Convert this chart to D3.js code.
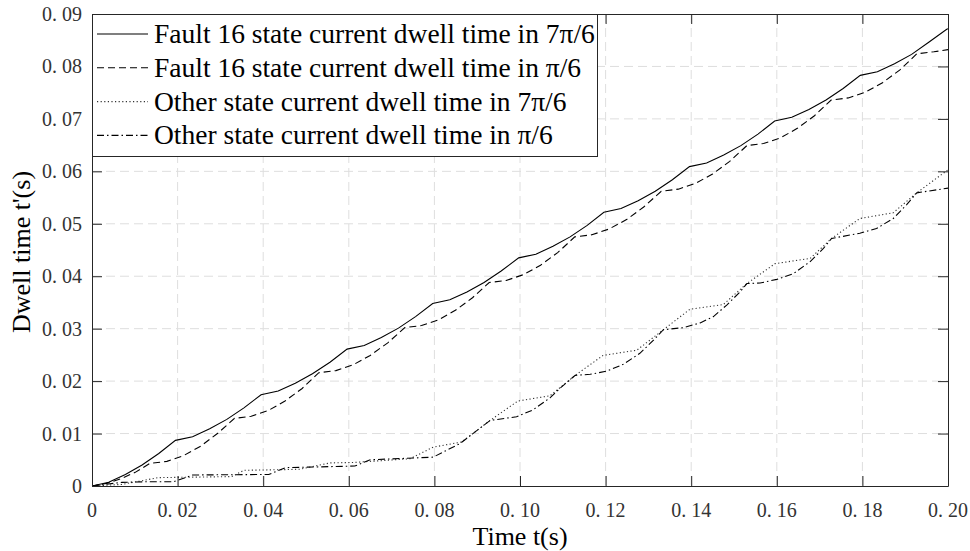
<!DOCTYPE html>
<html>
<head>
<meta charset="utf-8">
<script src="https://cdn.jsdelivr.net/npm/d3@7"></script>
<style>
  html, body { margin: 0; padding: 0; background: #fff; }
  svg { display: block; }
</style>
</head>
<body>
<script>

WIDTH = 970;
HEIGHT = 551;
PLOT = ({left: 92, right: 948, top: 14, bottom: 486});
AXIS_COLOR = "#262626";
GRID_COLOR = "#dedede";
TICK_FONT = "'Liberation Serif', 'Times New Roman', serif";

// ticks
var xTicks = [0, 0.02, 0.04, 0.06, 0.08, 0.10, 0.12, 0.14, 0.16, 0.18, 0.20];
var yTicks = [0, 0.01, 0.02, 0.03, 0.04, 0.05, 0.06, 0.07, 0.08, 0.09];

var legendLabels = [
    "Fault 16 state current dwell time in 7\u03c0/6",
    "Fault 16 state current dwell time in \u03c0/6",
    "Other state current dwell time in 7\u03c0/6",
    "Other state current dwell time in \u03c0/6"
];

// [t (s), dwell time (s)]
var fault7pi6 = [
    [0, 0], [0.0039, 0.0007], [0.0078, 0.0022], [0.0117, 0.0040], [0.0156, 0.0062], [0.0195, 0.0087],
    [0.0235, 0.0094], [0.0275, 0.0109], [0.0315, 0.0127], [0.0355, 0.0149], [0.0395, 0.0174],
    [0.0435, 0.0181], [0.0475, 0.0196], [0.0515, 0.0214], [0.0556, 0.0236], [0.0596, 0.0261],
    [0.0636, 0.0268], [0.0676, 0.0283], [0.0716, 0.0301], [0.0756, 0.0323], [0.0796, 0.0348],
    [0.0836, 0.0355], [0.0876, 0.0370], [0.0916, 0.0388], [0.0956, 0.0410], [0.0997, 0.0435],
    [0.1037, 0.0442], [0.1077, 0.0457], [0.1117, 0.0475], [0.1157, 0.0497], [0.1196, 0.0522],
    [0.1236, 0.0529], [0.1276, 0.0544], [0.1316, 0.0562], [0.1356, 0.0584], [0.1396, 0.0609],
    [0.1436, 0.0616], [0.1476, 0.0631], [0.1516, 0.0649], [0.1556, 0.0671], [0.1595, 0.0696],
    [0.1635, 0.0703], [0.1675, 0.0718], [0.1715, 0.0736], [0.1755, 0.0758], [0.1795, 0.0783],
    [0.1835, 0.0790], [0.1875, 0.0805], [0.1915, 0.0823], [0.1955, 0.0846], [0.1997, 0.0871],
    [0.2000, 0.0872]
];

var faultPi6 = [
    [0, 0], [0.0034, 0.0005], [0.0068, 0.0014], [0.0101, 0.0026], [0.0135, 0.0043],
    [0.0175, 0.0047], [0.0214, 0.0058], [0.0254, 0.0076], [0.0293, 0.0100], [0.0333, 0.0129],
    [0.0372, 0.0133], [0.0412, 0.0144], [0.0451, 0.0162], [0.0491, 0.0186], [0.0530, 0.0216],
    [0.0570, 0.0220], [0.0610, 0.0231], [0.0650, 0.0249], [0.0691, 0.0273], [0.0731, 0.0302],
    [0.0770, 0.0306], [0.0810, 0.0317], [0.0849, 0.0335], [0.0889, 0.0359], [0.0928, 0.0388],
    [0.0968, 0.0392], [0.1008, 0.0403], [0.1048, 0.0421], [0.1088, 0.0445], [0.1128, 0.0475],
    [0.1168, 0.0479], [0.1208, 0.0490], [0.1249, 0.0508], [0.1289, 0.0532], [0.1330, 0.0562],
    [0.1370, 0.0566], [0.1410, 0.0577], [0.1450, 0.0595], [0.1490, 0.0619], [0.1530, 0.0649],
    [0.1569, 0.0653], [0.1609, 0.0664], [0.1648, 0.0682], [0.1688, 0.0706], [0.1727, 0.0736],
    [0.1767, 0.0740], [0.1807, 0.0751], [0.1847, 0.0769], [0.1887, 0.0793], [0.1927, 0.0824],
    [0.1967, 0.0828], [0.2000, 0.0832]
];

var other7pi6 = [
    [0, 0], [0.0069, 0.0003], [0.0110, 0.0009], [0.0155, 0.0016], [0.0250, 0.0017],
    [0.0327, 0.0018], [0.0355, 0.0030], [0.0436, 0.0031], [0.0486, 0.0032], [0.0556, 0.0044],
    [0.0614, 0.0045], [0.0743, 0.0052], [0.0797, 0.0074], [0.0864, 0.0084], [0.0930, 0.0125],
    [0.0995, 0.0162], [0.1070, 0.0172], [0.1129, 0.0211], [0.1194, 0.0249], [0.1273, 0.0259],
    [0.1335, 0.0298], [0.1397, 0.0337], [0.1475, 0.0346], [0.1530, 0.0386], [0.1596, 0.0424],
    [0.1678, 0.0434], [0.1728, 0.0472], [0.1794, 0.0510], [0.1872, 0.0521], [0.1927, 0.0559],
    [0.2000, 0.0603]
];

var otherPi6 = [
    [0, 0], [0.0070, 0.0007], [0.0120, 0.0008], [0.0190, 0.0008], [0.0235, 0.0021],
    [0.0413, 0.0022], [0.0452, 0.0035], [0.0614, 0.0038], [0.0650, 0.0050], [0.0797, 0.0055],
    [0.0860, 0.0081], [0.0930, 0.0125], [0.0992, 0.0132], [0.1030, 0.0145], [0.1070, 0.0168],
    [0.1093, 0.0186], [0.1129, 0.0211], [0.1164, 0.0213], [0.1203, 0.0219], [0.1241, 0.0232],
    [0.1280, 0.0253], [0.1312, 0.0278], [0.1335, 0.0298], [0.1382, 0.0302], [0.1421, 0.0311],
    [0.1452, 0.0323], [0.1483, 0.0345], [0.1514, 0.0370], [0.1530, 0.0386], [0.1561, 0.0387],
    [0.1600, 0.0394], [0.1639, 0.0405], [0.1678, 0.0428], [0.1709, 0.0453], [0.1728, 0.0472],
    [0.1794, 0.0482], [0.1833, 0.0491], [0.1872, 0.0510], [0.1903, 0.0536], [0.1927, 0.0559],
    [0.2000, 0.0568]
];

var series = [
    {values: fault7pi6, dash: null, width: 1.1, color: "#000"},
    {values: faultPi6, dash: "7,4", width: 1.1, color: "#000"},
    {values: other7pi6, dash: "1.2,2.4", width: 1.1, color: "#333"},
    {values: otherPi6, dash: "7,3,1.5,3", width: 1.1, color: "#000"}
];

var svg = d3.select("body").append("svg")
    .attr("width", WIDTH)
    .attr("height", HEIGHT);

var x = d3.scaleLinear()
    .domain([0, 0.2])
    .range([PLOT.left, PLOT.right]);

var y = d3.scaleLinear()
    .domain([0, 0.09])
    .range([PLOT.bottom, PLOT.top]);

// tick text like "0. 02": a little gap after the point
function tickText(sel, v) {
    if (v === 0) { sel.text("0"); return; }
    var s = d3.format(".2f")(v);
    sel.append("tspan").text(s.slice(0, 2));
    sel.append("tspan").attr("dx", 5).text(s.slice(2));
}

// grid
svg.append("g")
    .selectAll("line")
    .data(xTicks.slice(1, -1))
    .enter().append("line")
    .attr("x1", d => x(d)).attr("x2", d => x(d))
    .attr("y1", PLOT.top).attr("y2", PLOT.bottom)
    .attr("stroke", GRID_COLOR)
    .attr("stroke-dasharray", "9,5");

svg.append("g")
    .selectAll("line")
    .data(yTicks.slice(1, -1))
    .enter().append("line")
    .attr("x1", PLOT.left).attr("x2", PLOT.right)
    .attr("y1", d => y(d)).attr("y2", d => y(d))
    .attr("stroke", GRID_COLOR)
    .attr("stroke-dasharray", "9,5");

// curves
var line = d3.line()
    .x(d => x(d[0]))
    .y(d => y(d[1]));

svg.append("g")
    .selectAll("path")
    .data(series)
    .enter().append("path")
    .attr("d", d => line(d.values))
    .attr("fill", "none")
    .attr("stroke", d => d.color)
    .attr("stroke-width", d => d.width)
    .attr("stroke-dasharray", d => d.dash);

// box axes, ticks inside on all four sides
var TICK = 10;
svg.append("g")
    .attr("transform", `translate(0,${PLOT.bottom})`)
    .call(d3.axisBottom(x).tickValues(xTicks).tickSizeInner(-TICK).tickSizeOuter(0).tickFormat(""));
svg.append("g")
    .attr("transform", `translate(0,${PLOT.top})`)
    .call(d3.axisTop(x).tickValues(xTicks).tickSizeInner(-TICK).tickSizeOuter(0).tickFormat(""));
svg.append("g")
    .attr("transform", `translate(${PLOT.left},0)`)
    .call(d3.axisLeft(y).tickValues(yTicks).tickSizeInner(-TICK).tickSizeOuter(0).tickFormat(""));
svg.append("g")
    .attr("transform", `translate(${PLOT.right},0)`)
    .call(d3.axisRight(y).tickValues(yTicks).tickSizeInner(-TICK).tickSizeOuter(0).tickFormat(""));

svg.selectAll(".domain, .tick line")
    .attr("stroke", AXIS_COLOR)
    .attr("stroke-width", 1);

// tick labels
svg.append("g")
    .selectAll("text")
    .data(xTicks)
    .enter().append("text")
    .attr("x", d => x(d))
    .attr("y", PLOT.bottom + 31)
    .attr("text-anchor", "middle")
    .attr("font-family", TICK_FONT)
    .attr("font-size", 20)
    .attr("fill", "#333")
    .each(function(d) { tickText(d3.select(this), d); });

svg.append("g")
    .selectAll("text")
    .data(yTicks)
    .enter().append("text")
    .attr("x", PLOT.left - 10)
    .attr("y", d => y(d) + 7)
    .attr("text-anchor", "end")
    .attr("font-family", TICK_FONT)
    .attr("font-size", 20)
    .attr("fill", "#333")
    .each(function(d) { tickText(d3.select(this), d); });

// axis titles
svg.append("text")
    .attr("x", (PLOT.left + PLOT.right) / 2)
    .attr("y", 545)
    .attr("text-anchor", "middle")
    .attr("font-family", TICK_FONT)
    .attr("font-size", 26)
    .text("Time t(s)");

svg.append("text")
    .attr("transform", `translate(30,${(PLOT.top + PLOT.bottom) / 2 + 2}) rotate(-90)`)
    .attr("text-anchor", "middle")
    .attr("font-family", TICK_FONT)
    .attr("font-size", 26)
    .text("Dwell time t'(s)");

// legend
var LEGEND = ({x: 92, y: 14, w: 505, h: 142, row: 33.8, first: 20});
var legend = svg.append("g");

legend.append("rect")
    .attr("x", LEGEND.x + 0.5).attr("y", LEGEND.y + 0.5)
    .attr("width", LEGEND.w).attr("height", LEGEND.h)
    .attr("fill", "#fff")
    .attr("stroke", AXIS_COLOR);

var item = legend.selectAll(".item")
    .data(series)
    .enter().append("g")
    .attr("class", "item")
    .attr("transform", (d, i) => `translate(${LEGEND.x},${LEGEND.y + LEGEND.first + i * LEGEND.row})`);

item.append("line")
    .attr("x1", 5).attr("x2", 56)
    .attr("stroke", d => d.color)
    .attr("stroke-width", d => d.width)
    .attr("stroke-dasharray", d => d.dash);

item.append("text")
    .attr("x", 62)
    .attr("y", 9)
    .attr("font-family", TICK_FONT)
    .attr("font-size", 27.5)
    .text((d, i) => legendLabels[i]);

</script>
</body>
</html>
